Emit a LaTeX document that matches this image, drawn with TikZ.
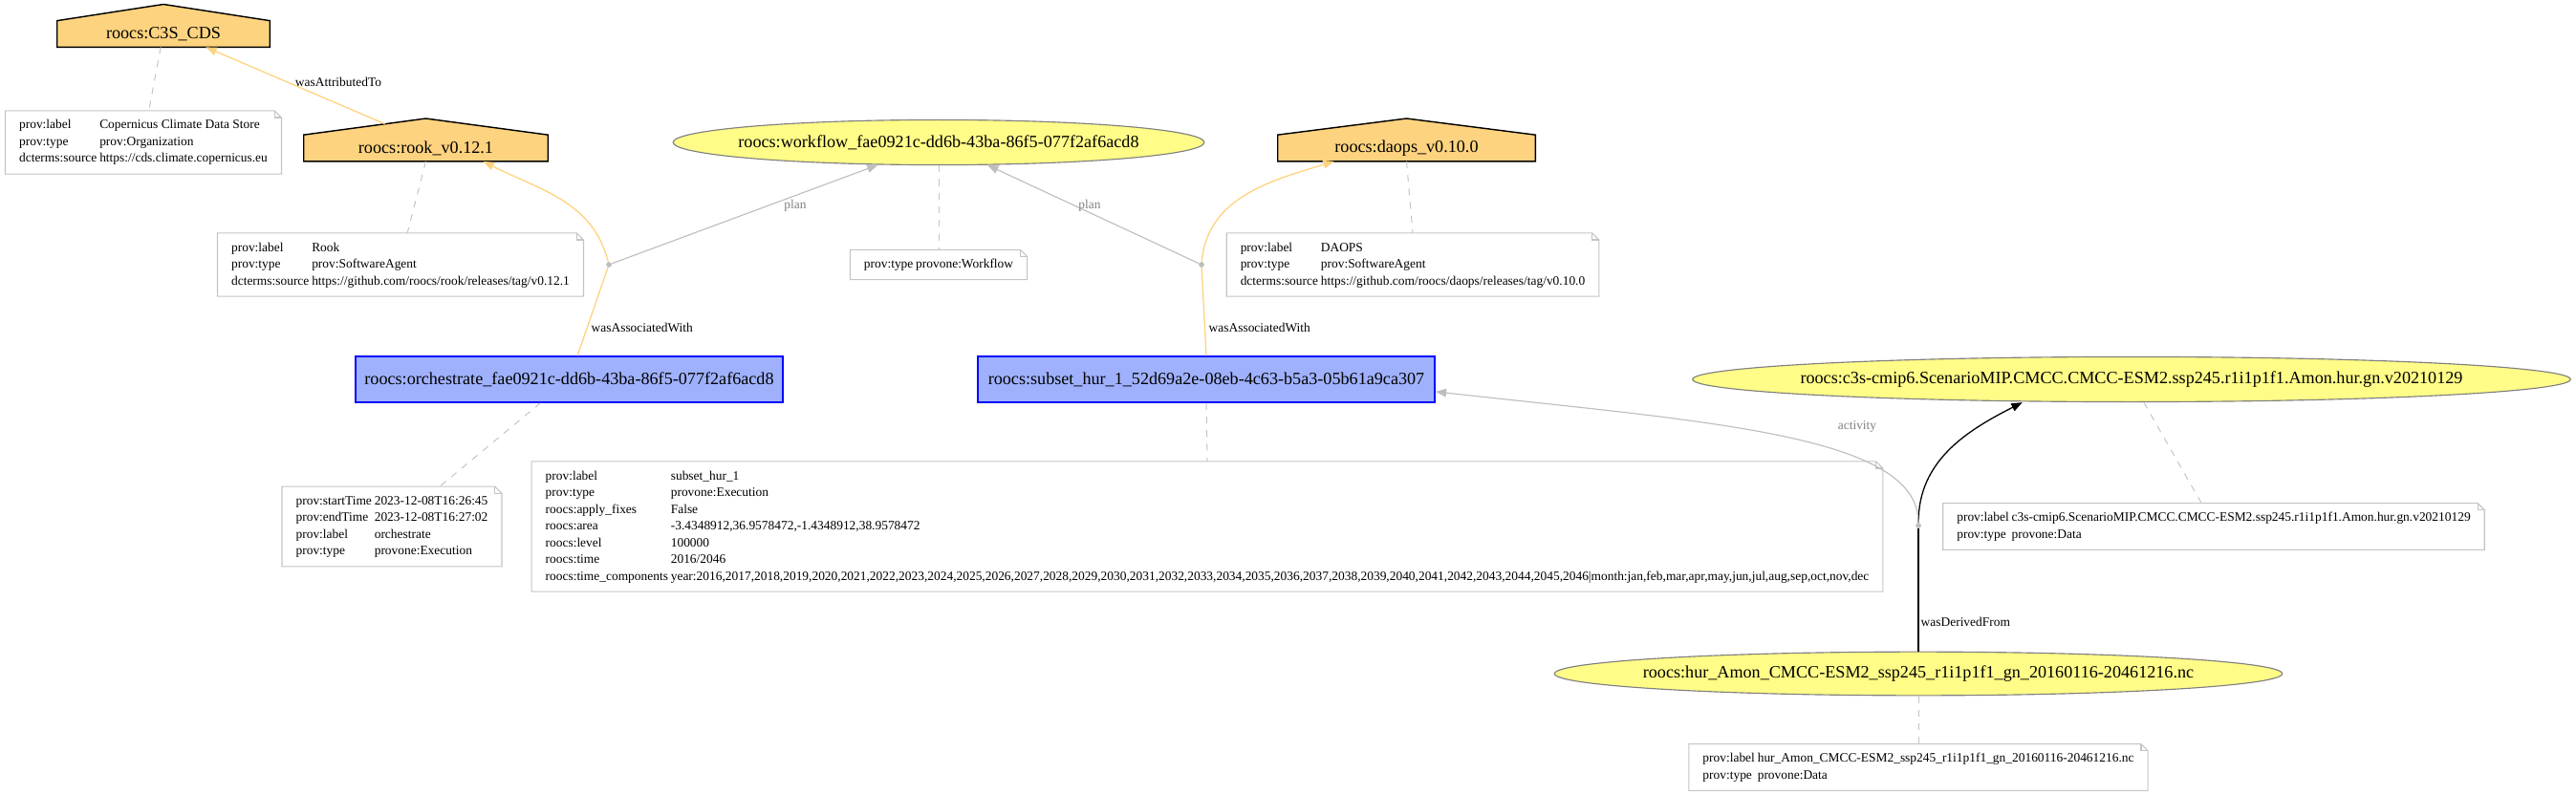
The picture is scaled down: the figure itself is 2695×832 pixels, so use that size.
\documentclass[tikz,border=0pt]{standalone}
\usepackage{fontspec}
\setmainfont{Liberation Serif}
\usepackage{tikz}
\usetikzlibrary{arrows.meta,shapes.geometric}

\definecolor{agentfill}{HTML}{FED37F}
\definecolor{actfill}{HTML}{9FB1FC}
\definecolor{entfill}{HTML}{FFFC87}
\definecolor{linegray}{HTML}{BEBEBE}
\definecolor{notegray}{HTML}{C4C4C4}
\definecolor{labelgray}{HTML}{808080}
\newcommand{\nodefont}{\fontsize{12.7pt}{15pt}\selectfont}
\newcommand{\notefont}{\fontsize{9.4pt}{12.25pt}\selectfont}
\newcommand{\proptable}[1]{\begin{tabular}{@{}l@{\hspace{2pt}}l@{}}#1\end{tabular}}
\pgfdeclarelayer{background}
\pgfsetlayers{background,main}

\begin{document}
\begin{tikzpicture}[x=0.7pt,y=-0.7pt,>={Triangle[length=8pt,width=6pt]},
  agent/.style={rectangle,minimum height=19pt,inner sep=0pt,font=\nodefont},
  activity/.style={rectangle,draw=blue,fill=actfill,line width=0.9pt,minimum height=33.6pt,inner sep=0pt,font=\nodefont},
  entity/.style={ellipse,draw=gray,fill=entfill,line width=0.8pt,inner xsep=-60pt,inner ysep=0pt,minimum height=33pt,font=\nodefont},
  note/.style={rectangle,inner xsep=10pt,inner ysep=4.6pt,font=\notefont},
  notelink/.style={notegray,dash pattern=on 5pt off 5pt,line width=0.7pt},
  attrib/.style={agentfill,line width=0.9pt},
  planedge/.style={linegray,line width=0.8pt},
  derived/.style={black,line width=0.9pt},
  elabel/.style={font=\notefont,inner sep=1pt},
  glabel/.style={font=\notefont,text=labelgray,inner sep=1pt},
  bnode/.style={circle,fill=linegray,inner sep=0pt,minimum size=4pt}]
\useasboundingbox (0,0) rectangle (2695,832);

% agents
\node[agent,minimum width=155.4pt] (cds) at (171,35.5) {roocs:C3S\_CDS};
\node[agent,minimum width=178.5pt] (rook) at (445.5,155) {roocs:rook\_v0.12.1};
\node[agent,minimum width=188.3pt] (daops) at (1471.5,155) {roocs:daops\_v0.10.0};
\begin{pgfonlayer}{background}
\foreach \n in {cds,rook,daops}
  \filldraw[fill=agentfill,draw=black,line width=1pt] (\n.south west) -- (\n.north west)
    -- ([yshift=12pt]\n.north) -- (\n.north east) -- (\n.south east) -- cycle;
\end{pgfonlayer}

% activities and entities
\node[entity,minimum width=389pt] (wf) at (982,149) {roocs:workflow\_fae0921c-dd6b-43ba-86f5-077f2af6acd8};
\node[activity,minimum width=313pt] (orch) at (595.5,397) {roocs:orchestrate\_fae0921c-dd6b-43ba-86f5-077f2af6acd8};
\node[activity,minimum width=334.6pt] (sub) at (1262,397) {roocs:subset\_hur\_1\_52d69a2e-08eb-4c63-b5a3-05b61a9ca307};
\node[entity,minimum width=643pt] (c3s) at (2230,397) {roocs:c3s-cmip6.ScenarioMIP.CMCC.CMCC-ESM2.ssp245.r1i1p1f1.Amon.hur.gn.v20210129};
\node[entity,minimum width=533pt,minimum height=32pt] (hur) at (2007,705) {roocs:hur\_Amon\_CMCC-ESM2\_ssp245\_r1i1p1f1\_gn\_20160116-20461216.nc};

% notes
\node[note] (cdsnote) at (150,149) {\proptable{prov:label & Copernicus Climate Data Store\\
  prov:type & prov:Organization\\ dcterms:source & https://cds.climate.copernicus.eu}};
\node[note] (rooknote) at (419,277) {\proptable{prov:label & Rook\\
  prov:type & prov:SoftwareAgent\\ dcterms:source & https://github.com/roocs/rook/releases/tag/v0.12.1}};
\node[note] (wfnote) at (982,277) {\proptable{prov:type & provone:Workflow}};
\node[note] (daopsnote) at (1478,277) {\proptable{prov:label & DAOPS\\
  prov:type & prov:SoftwareAgent\\ dcterms:source & https://github.com/roocs/daops/releases/tag/v0.10.0}};
\node[note] (orchnote) at (410,551) {\proptable{prov:startTime & 2023-12-08T16:26:45\\
  prov:endTime & 2023-12-08T16:27:02\\ prov:label & orchestrate\\ prov:type & provone:Execution}};
\node[note] (subnote) at (1263,551) {\proptable{prov:label & subset\_hur\_1\\
  prov:type & provone:Execution\\ roocs:apply\_fixes & False\\
  roocs:area & -3.4348912,36.9578472,-1.4348912,38.9578472\\
  roocs:level & 100000\\ roocs:time & 2016/2046\\
  roocs:time\_components & year:2016,2017,2018,2019,2020,2021,2022,2023,2024,2025,2026,2027,2028,2029,2030,2031,2032,2033,2034,2035,2036,2037,2038,2039,2040,2041,2042,2043,2044,2045,2046\textbar month:jan,feb,mar,apr,may,jun,jul,aug,sep,oct,nov,dec}};
\node[note] (c3snote) at (2316,551) {\proptable{prov:label & c3s-cmip6.ScenarioMIP.CMCC.CMCC-ESM2.ssp245.r1i1p1f1.Amon.hur.gn.v20210129\\
  prov:type & provone:Data}};
\node[note] (hurnote) at (2007,803) {\proptable{prov:label & hur\_Amon\_CMCC-ESM2\_ssp245\_r1i1p1f1\_gn\_20160116-20461216.nc\\
  prov:type & provone:Data}};
\foreach \n in {cdsnote,rooknote,wfnote,daopsnote,orchnote,subnote,c3snote,hurnote}{
  \draw[notegray,line width=0.8pt] (\n.north west) -- ([xshift=-5pt]\n.north east)
    -- ([yshift=-5pt]\n.north east) -- (\n.south east) -- (\n.south west) -- cycle;
  \draw[notegray,line width=0.8pt] ([xshift=-5pt]\n.north east)
    -- ([xshift=-5pt,yshift=-5pt]\n.north east) -- ([yshift=-5pt]\n.north east);
}

\draw[notelink] ([xshift=-2pt]cds.south) -- ([xshift=4pt]cdsnote.north);
\draw[notelink] (rook.south) -- ([xshift=5pt]rooknote.north);
\draw[notelink] (wf.south) -- (wfnote.north);
\draw[notelink] (daops.south) -- (daopsnote.north);
\draw[notelink] ([xshift=-21pt]orch.south) -- ([xshift=35pt]orchnote.north);
\draw[notelink] (sub.south) -- (subnote.north);
\draw[notelink] ([xshift=9pt]c3s.south) -- ([xshift=-9pt]c3snote.north);
\draw[notelink] (hur.south) -- (hurnote.north);

% relations
\node[bnode] (ldot) at (637,277) {};
\node[bnode] (rdot) at (1257,277) {};
\node[bnode] (adot) at (2007,550) {};

\draw[attrib,->] ([xshift=-30pt,yshift=8pt]rook.north) -- ([xshift=31pt]cds.south);
\node[elabel] (attlab) at (354,86) {wasAttributedTo};

\draw[attrib] ([xshift=6pt]orch.north) -- (ldot);
\draw[attrib,->] (ldot) to[out=104,in=-27] ([xshift=42pt]rook.south);
\draw[attrib] (sub.north) -- (rdot);
\draw[attrib,->] (rdot) to[out=85,in=-163] ([xshift=-53pt]daops.south);
\node[elabel,anchor=west] (asslab1) at (617,343) {wasAssociatedWith};
\node[elabel,anchor=west] (asslab2) at (1263,343) {wasAssociatedWith};

\draw[planedge,->] (ldot) -- (wf);
\draw[planedge,->] (rdot) -- (wf);
\node[glabel] (planlab1) at (832,215) {plan};
\node[glabel] (planlab2) at (1140,215) {plan};

\draw[derived] (hur) -- (adot);
\draw[derived,->] (adot) to[out=90,in=-153] ([xshift=-80pt]c3s.south);
\draw[planedge,->] (adot) .. controls +(0,-95) and +(287,32) .. ([yshift=-9pt]sub.east);
\node[elabel,anchor=west] (derlab) at (2008,651) {wasDerivedFrom};
\node[glabel] (actlab) at (1943,446) {activity};
\end{tikzpicture}
\end{document}
